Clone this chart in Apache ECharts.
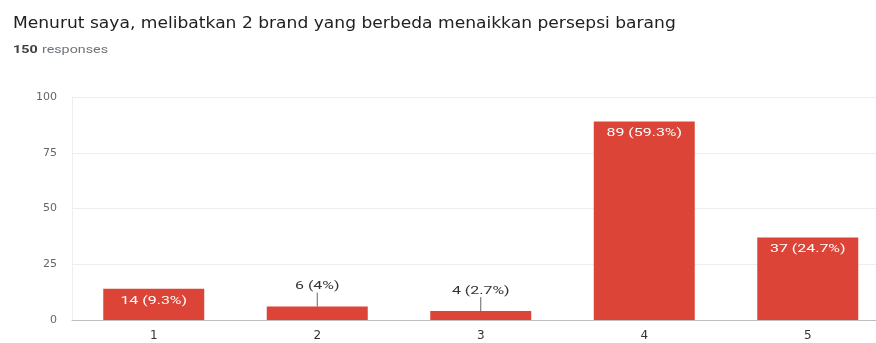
<!DOCTYPE html>
<html><head><meta charset="utf-8">
<script src="https://cdn.jsdelivr.net/npm/echarts@6/dist/echarts.min.js"></script>
<style>html,body{margin:0;padding:0;background:#fff}#chart{width:876px;height:343px}</style>
</head><body><div id="chart"></div>
<script>
// Survey question results: count of answers per scale point (1-5)
const questionTitle = 'Menurut saya, melibatkan 2 brand yang berbeda menaikkan persepsi barang';
const responseTotal = '150';
const responseWord = 'responses';
const categories = ['1', '2', '3', '4', '5'];
const counts = [14, 6, 4, 89, 37];
const yTicks = [0, 25, 50, 75, 100];

const total = counts.reduce((a, b) => a + b, 0);
function pct(v) {
  const p = Math.round(v / total * 1000) / 10;
  return (p % 1 === 0 ? p.toFixed(0) : p.toFixed(1)) + '%';
}
function labelText(v) { return v + ' (' + pct(v) + ')'; }
// Bars too short to hold their label get it above, on a stem
const insideMin = 10;
const LABEL_STRETCH = 1.45;

const chart = echarts.init(document.getElementById('chart'));
chart.setOption({
  animation: false,
  graphic: [
    {
      type: 'text', left: 13, top: 17, scaleX: 1.14,
      style: { text: questionTitle, font: '15px "DejaVu Sans"', fill: '#202124' }
    },
    {
      type: 'text', left: 13, top: 44, scaleX: 1.3,
      style: {
        text: '{b|' + responseTotal + '} {n|' + responseWord + '}',
        rich: {
          b: { font: 'bold 11px Roboto', fill: '#3c4043' },
          n: { font: '11px Roboto', fill: '#70757a' }
        }
      }
    }
  ],
  grid: { left: 72, width: 817.5, top: 97, bottom: 23, outerBoundsMode: 'none', containLabel: false },
  xAxis: {
    type: 'category',
    data: categories,
    axisLine: { lineStyle: { color: '#bdbdbd' } },
    axisTick: { show: false },
    axisLabel: { color: '#333', fontFamily: 'DejaVu Sans', fontSize: 12, margin: 10 }
  },
  yAxis: {
    type: 'value',
    min: yTicks[0], max: yTicks[yTicks.length - 1], interval: 25,
    axisLine: { show: true, lineStyle: { color: '#eeeeee' } },
    axisTick: { show: false },
    splitLine: { lineStyle: { color: '#eeeeee' } },
    axisLabel: { color: '#666', fontFamily: 'DejaVu Sans', fontSize: 11, margin: 15 }
  },
  series: [
    {
      type: 'bar',
      data: counts,
      barWidth: 101,
      itemStyle: { color: '#db4437' }
    },
    {
      type: 'custom',
      data: counts.map((v, i) => [i, v]),
      silent: true,
      z: 5,
      renderItem: function (params, api) {
        const v = api.value(1);
        const top = api.coord([api.value(0), v]);
        if (v >= insideMin) {
          return {
            type: 'text', x: top[0], y: top[1] + 12, scaleX: LABEL_STRETCH,
            style: { text: labelText(v), x: 0, y: 0, align: 'center', verticalAlign: 'middle',
              fill: '#ffffff', font: '11px Roboto' }
          };
        }
        return {
          type: 'group',
          children: [
            { type: 'line', shape: { x1: top[0], y1: top[1], x2: top[0], y2: top[1] - 14 },
              style: { stroke: '#666', lineWidth: 1 } },
            { type: 'text', x: top[0], y: top[1] - 20, scaleX: LABEL_STRETCH,
              style: { text: labelText(v), x: 0, y: 0, align: 'center', verticalAlign: 'middle',
                fill: '#333', font: '11px Roboto' } }
          ]
        };
      }
    }
  ]
});
</script></body></html>
